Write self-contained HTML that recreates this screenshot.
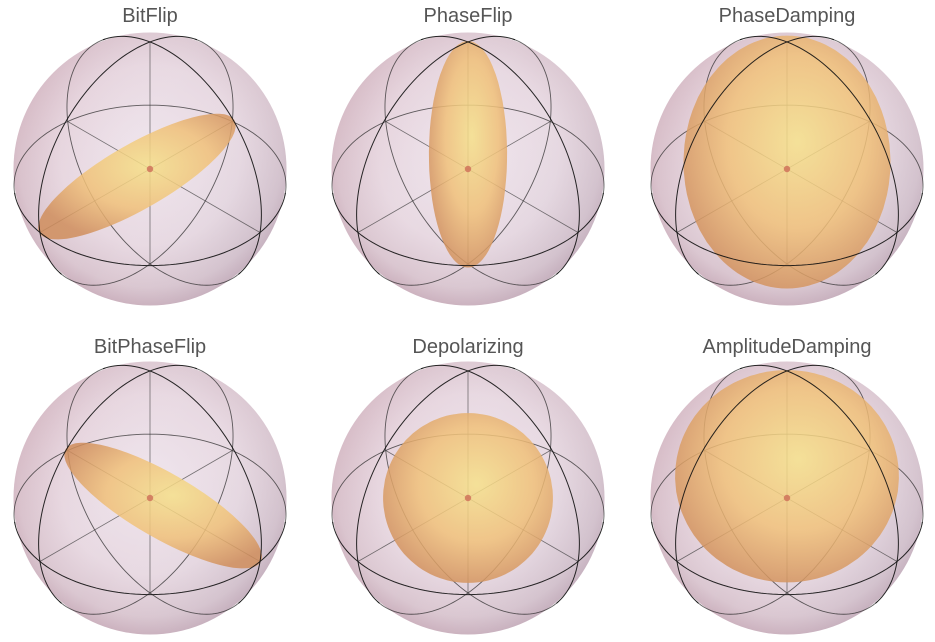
<!DOCTYPE html>
<html><head><meta charset="utf-8"><style>
html,body{margin:0;padding:0;background:#fff;}
svg{display:block;}
text{font-family:"Liberation Sans",sans-serif;font-size:20px;fill:#555;}
</style></head><body>
<svg id="chart" width="935" height="642" viewBox="0 0 935 642" xmlns="http://www.w3.org/2000/svg">
<defs>
<radialGradient id="sph" cx="0.5" cy="0.45" r="0.55">
<stop offset="0" stop-color="#efe5ed"/><stop offset="0.6" stop-color="#e8d9e2"/><stop offset="0.88" stop-color="#dac6d0"/><stop offset="1" stop-color="#cbb0bd"/>
</radialGradient>
<linearGradient id="tint" x1="0" y1="0.2" x2="1" y2="0.8">
<stop offset="0" stop-color="#c07a8a" stop-opacity="0.18"/><stop offset="0.5" stop-color="#fff" stop-opacity="0"/><stop offset="1" stop-color="#8a90a8" stop-opacity="0.18"/>
</linearGradient>
<radialGradient id="ell" cx="0.55" cy="0.42" r="0.62">
<stop offset="0" stop-color="#f5e08a"/><stop offset="0.55" stop-color="#f0c079"/><stop offset="1" stop-color="#d08e5c"/>
</radialGradient>
</defs>
<g id="panels"></g>
</svg>
<script>
// Channel data: titles and ellipsoid semi-axes (x,y,z) and center z-shift
const titles = ["BitFlip","PhaseFlip","PhaseDamping","BitPhaseFlip","Depolarizing","AmplitudeDamping"];
const axisX = [1.0, 0.29, 0.76, 0.24, 0.63, 0.8];
const axisY = [0.24, 0.29, 0.76, 1.0, 0.63, 0.8];
const axisZ = [0.24, 1.0, 1.0, 0.24, 0.63, 0.74];
const shiftZ = [0, 0, 0, 0, 0, 0.2];

const colCenters=[150,468,787], rowCenters=[169,498], titleY=[22,353];
const D=4.0, F=532.6;
const s2=Math.SQRT2, s3=Math.sqrt(3), s6=Math.sqrt(6);
const V=[1/s3,1/s3,1/s3], Rv=[-1/s2,1/s2,0], Uv=[-1/s6,-1/s6,2/s6];
const dot=(a,b)=>a[0]*b[0]+a[1]*b[1]+a[2]*b[2];
function proj(p,cx,cy){const w=D-dot(p,V);return [cx+F*dot(p,Rv)/w, cy-F*dot(p,Uv)/w];}
const NS="http://www.w3.org/2000/svg";
const root=document.getElementById('panels');
function mk(tag,attrs,parent){const e=document.createElementNS(NS,tag);for(const k in attrs)e.setAttribute(k,attrs[k]);parent.appendChild(e);return e;}
function hull(pts){pts.sort((a,b)=>a[0]-b[0]||a[1]-b[1]);const cr=(o,a,b)=>(a[0]-o[0])*(b[1]-o[1])-(a[1]-o[1])*(b[0]-o[0]);const lo=[],up=[];for(const p of pts){while(lo.length>=2&&cr(lo[lo.length-2],lo[lo.length-1],p)<=0)lo.pop();lo.push(p);}for(let i=pts.length-1;i>=0;i--){const p=pts[i];while(up.length>=2&&cr(up[up.length-2],up[up.length-1],p)<=0)up.pop();up.push(p);}up.pop();lo.pop();return lo.concat(up);}
function circlePts(k){const out=[];for(let i=0;i<=180;i++){const t=i/180*2*Math.PI,c=Math.cos(t),s=Math.sin(t);out.push(k===0?[0,c,s]:k===1?[c,0,s]:[c,s,0]);}return out;}

titles.forEach((title,i)=>{
  const cx=colCenters[i%3], cy=rowCenters[Math.floor(i/3)];
  const g=mk('g',{},root);
  
  
  const t=mk('text',{x:cx,y:titleY[Math.floor(i/3)],'text-anchor':'middle'},g);
  t.textContent=title;
  
  
  const sr=136.5;
  const sp=mk('circle',{cx:cx,cy:cy,r:sr,fill:'url(#sph)'},g);
  
  
  mk('circle',{cx:cx,cy:cy,r:sr,fill:'url(#tint)'},g);
  const wireBack=mk('g',{fill:'none',stroke:'#222','stroke-width':0.9,'stroke-opacity':0.7},g);
  
  
  [[1,0,0],[0,1,0],[0,0,1]].forEach(a=>{
    const p1=proj(a,cx,cy),p2=proj(a.map(v=>-v),cx,cy);
    const l=mk('line',{x1:p1[0],y1:p1[1],x2:p2[0],y2:p2[1],stroke:'#333','stroke-width':0.8,'stroke-opacity':0.65},g);
    
    
  });
  const fronts=[];
  for(let k=0;k<3;k++){
    const pts=circlePts(k);let back=[],front=[];
    pts.forEach(p=>{const q=proj(p,cx,cy);if(dot(p,V)>1/D-0.02){front.push(q);}else{front.length&&fronts.push(front);front=[];}
      if(dot(p,V)<=1/D+0.02){back.push(q);}else{if(back.length){mk('polyline',{points:back.map(q=>q.join(',')).join(' ')},wireBack);}back=[];}});
    if(back.length)mk('polyline',{points:back.map(q=>q.join(',')).join(' ')},wireBack);
    if(front.length)fronts.push(front);
  }
  const ep=[];
  for(let a=0;a<=36;a++){const th=a/36*Math.PI;for(let b=0;b<72;b++){const ph=b/72*2*Math.PI;
    ep.push(proj([axisX[i]*Math.sin(th)*Math.cos(ph),axisY[i]*Math.sin(th)*Math.sin(ph),shiftZ[i]+axisZ[i]*Math.cos(th)],cx,cy));}}
  const h=hull(ep);
  const el=mk('path',{d:'M'+h.map(q=>q[0].toFixed(1)+','+q[1].toFixed(1)).join('L')+'Z',fill:'url(#ell)','fill-opacity':0.85},g);
  
  
  const wireFront=mk('g',{fill:'none',stroke:'#111','stroke-width':1,'stroke-opacity':0.9},g);
  
  
  fronts.forEach(f=>mk('polyline',{points:f.map(q=>q.join(',')).join(' ')},wireFront));
  const dotc=mk('circle',{cx:cx,cy:cy,r:3.2,fill:'#d0735a','fill-opacity':0.85},g);
  
  
});
</script>
</body></html>
